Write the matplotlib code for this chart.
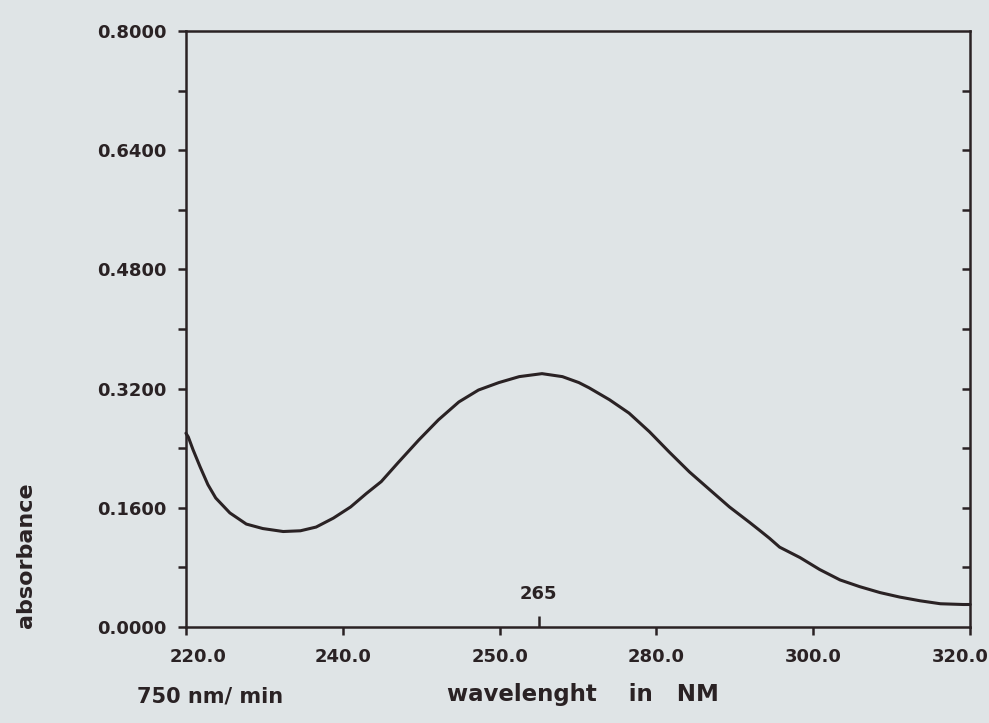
import matplotlib
matplotlib.use("Agg")
import matplotlib.pyplot as plt
import matplotlib.transforms as mtransforms
from matplotlib.ticker import FixedLocator, FixedFormatter

# spectrum
wavelength = [220.0, 220.3, 220.9, 221.8, 222.8, 223.8, 225.6, 227.7, 229.8, 232.4,
              234.6, 236.6, 238.8, 241.0, 243.0, 244.9, 247.1, 249.7, 252.2, 254.8,
              257.3, 259.9, 262.5, 265.4, 268.0, 270.1, 271.4, 274.0, 276.5, 279.1,
              281.6, 284.2, 286.8, 289.3, 291.9, 293.1, 294.4, 295.7, 298.3, 300.8,
              303.4, 305.9, 308.5, 311.0, 313.6, 316.2, 319.1, 320.0]
absorbance = [0.260, 0.255, 0.238, 0.215, 0.191, 0.173, 0.153, 0.138, 0.132, 0.128,
              0.129, 0.134, 0.146, 0.161, 0.179, 0.195, 0.221, 0.251, 0.278, 0.302,
              0.318, 0.328, 0.336, 0.340, 0.336, 0.328, 0.321, 0.305, 0.287, 0.262,
              0.235, 0.208, 0.184, 0.161, 0.140, 0.130, 0.119, 0.107, 0.093, 0.077,
              0.063, 0.054, 0.046, 0.040, 0.035, 0.031, 0.030, 0.030]

x_ticks = [220, 240, 260, 280, 300, 320]
x_labels = ["220.0", "240.0", "250.0", "280.0", "300.0", "320.0"]
y_ticks = [0.0, 0.16, 0.32, 0.48, 0.64, 0.80]
y_labels = ["0.0000", "0.1600", "0.3200", "0.4800", "0.6400", "0.8000"]
y_minor = [0.08, 0.24, 0.40, 0.56, 0.72]
right_ticks = [0.08 * i for i in range(1, 10)]
peak_nm = 265

ink = "#2a2224"
paper = "#dfe4e6"

plt.rcParams["font.family"] = ["DejaVu Sans"]

fig = plt.figure(figsize=(9.89, 7.23), dpi=100)
fig.set_facecolor(paper)
ax = fig.add_axes([0.188, 0.133, 0.793, 0.824])
ax.set_facecolor(paper)

ax.plot(wavelength, absorbance, color=ink, lw=2.2, solid_joinstyle="round",
        solid_capstyle="round", clip_on=False)

ax.set_xlim(220, 320)
ax.set_ylim(0, 0.8)

for spine in ax.spines.values():
    spine.set_color(ink)
    spine.set_linewidth(1.8)

# x axis: outward ticks + the 265 marker as an inward minor tick
ax.xaxis.set_major_locator(FixedLocator(x_ticks))
ax.xaxis.set_major_formatter(FixedFormatter(x_labels))
ax.xaxis.set_minor_locator(FixedLocator([peak_nm]))
ax.xaxis.set_minor_formatter(FixedFormatter([str(peak_nm)]))
ax.tick_params(axis="x", which="major", direction="out", length=6, width=1.8,
               colors=ink, labelsize=13, pad=9)
ax.tick_params(axis="x", which="minor", direction="in", length=8, width=1.8,
               colors=ink, labelsize=13, pad=-30)

# y axis
ax.yaxis.set_major_locator(FixedLocator(y_ticks))
ax.yaxis.set_major_formatter(FixedFormatter(y_labels))
ax.yaxis.set_minor_locator(FixedLocator(y_minor))
ax.tick_params(axis="y", which="both", direction="out", length=6, width=1.8,
               colors=ink, labelsize=13, pad=8)

for lab in ax.get_xticklabels() + ax.get_yticklabels() + ax.get_xticklabels(minor=True):
    lab.set_fontweight("bold")
    lab.set_color(ink)

# nudge first / last x labels like the plotter did
xl = ax.get_xticklabels()
xl[0].set_transform(xl[0].get_transform() + mtransforms.ScaledTranslation(12 / 100, 0, fig.dpi_scale_trans))
xl[-1].set_transform(xl[-1].get_transform() + mtransforms.ScaledTranslation(-10 / 100, 0, fig.dpi_scale_trans))

# right side inward ticks
sec = ax.secondary_yaxis("right")
sec.set_yticks(right_ticks)
sec.set_yticklabels([])
sec.tick_params(axis="y", direction="in", length=6, width=1.8, colors=ink)
sec.spines["right"].set_visible(False)

fig.text(0.026, 0.232, "absorbance", rotation=90, ha="center", va="center",
         fontsize=16, color=ink, fontweight="bold")
fig.text(0.589, 0.039, "wavelenght    in   NM", ha="center", va="center",
         fontsize=16.5, color=ink, fontweight="bold")
fig.text(0.212, 0.036, "750 nm/ min", ha="center", va="center",
         fontsize=15, color=ink, fontweight="bold")

fig.savefig("out.png", dpi=100, facecolor=paper)
